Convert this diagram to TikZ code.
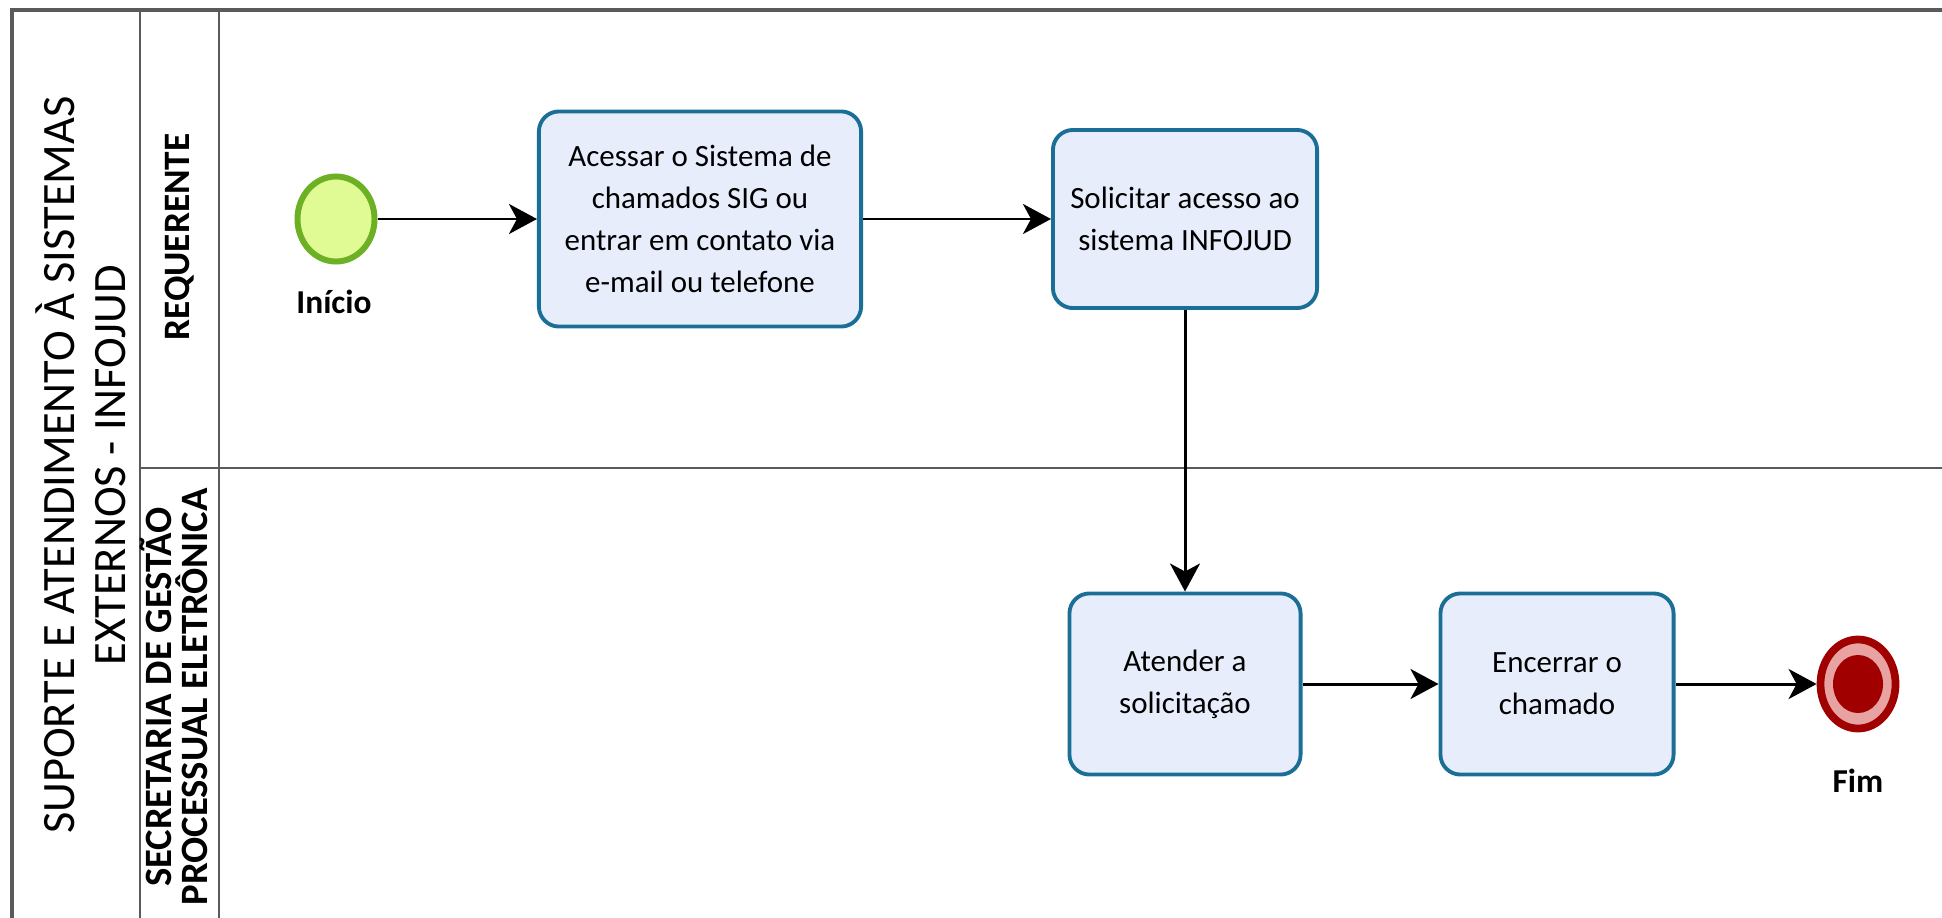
\documentclass[tikz,border=0pt]{standalone}
\usepackage{fontspec}
\setmainfont{Carlito}
\usetikzlibrary{shapes.geometric,arrows.meta}
\definecolor{tskfill}{HTML}{E8EDFC}
\definecolor{tskline}{HTML}{1B6E96}
\definecolor{iniline}{HTML}{6CB024}
\definecolor{inifill}{HTML}{E0FA94}
\definecolor{fimred}{HTML}{A00000}
\definecolor{fimpink}{HTML}{E8A2A2}
\definecolor{lanegray}{HTML}{5A5A5A}
\begin{document}
\begin{tikzpicture}[x=0.01cm, y=-0.01cm,
  tsk/.style={rectangle, rounded corners=0.2cm, draw=tskline, fill=tskfill, line width=1.1pt, align=center, inner sep=0pt, font=\fontsize{8.8}{12}\selectfont},
  flow/.style={-{Stealth[length=0.28cm, width=0.3cm, inset=0.08cm]}, line width=0.85pt},
  lane/.style={draw=lanegray, line width=0.7pt},
  evtxt/.style={font=\bfseries\fontsize{9.5}{11}\selectfont}]
\useasboundingbox (0,0) rectangle (1942,918);
\draw[lane, line width=1pt] (12,918) -- (12,10) -- (1942,10);
\draw[lane] (140,10) -- (140,918);
\draw[lane] (219,10) -- (219,918);
\draw[lane] (140,468) -- (1942,468);
\node[rotate=90, align=center, font=\fontsize{13.2}{14.5}\selectfont] (pool) at (81,465) {SUPORTE E ATENDIMENTO À SISTEMAS\\EXTERNOS - INFOJUD};
\node[rotate=90, font=\bfseries\fontsize{10.6}{11}\selectfont] (ln1) at (180,237) {REQUERENTE};
\node[rotate=90, align=center, font=\bfseries\fontsize{11}{10.2}\selectfont] (ln2) at (174,697) {SECRETARIA DE GESTÃO\\PROCESSUAL ELETRÔNICA};
% eventos
\node[ellipse, draw=iniline, fill=inifill, line width=1.7pt, minimum width=0.77cm, minimum height=0.85cm, inner sep=0pt] (ev0) at (336,219){};
\node[evtxt] (ev0l) at (334,302){Início};
\node[ellipse, draw=fimred, fill=fimpink, line width=2.2pt, minimum width=0.75cm, minimum height=0.89cm, inner sep=0pt,
  path picture={\fill[fimred] (path picture bounding box.center) ellipse [x radius=0.25cm, y radius=0.29cm];}] (ev1) at (1858,684){};
\node[evtxt] (ev1l) at (1858,781){Fim};
% tarefas
\node[tsk, minimum width=3.22cm, minimum height=2.15cm] (tsk1) at (700,219){Acessar o Sistema de\\chamados SIG ou\\entrar em contato via\\e-mail ou telefone};
\node[tsk, minimum width=2.64cm, minimum height=1.78cm] (tsk2) at (1185,219){Solicitar acesso ao\\sistema INFOJUD};
\node[tsk, minimum width=2.31cm, minimum height=1.81cm] (tsk3) at (1185,684){Atender a\\solicitação};
\node[tsk, minimum width=2.33cm, minimum height=1.81cm] (tsk4) at (1557,684){Encerrar o\\chamado};
\draw[flow] (ev0) -- (tsk1);
\draw[flow] (tsk1) -- (tsk2);
\draw[flow] (tsk2) -- (tsk3);
\draw[flow] (tsk3) -- (tsk4);
\draw[flow] (tsk4) -- (ev1);
\end{tikzpicture}
\end{document}
